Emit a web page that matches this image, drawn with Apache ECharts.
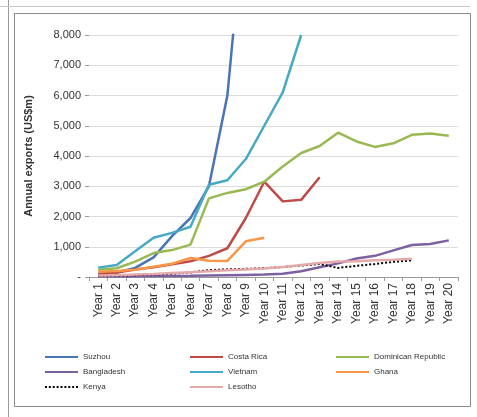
<!DOCTYPE html>
<html>
<head>
<meta charset="utf-8">
<script src="https://cdn.jsdelivr.net/npm/echarts@6/dist/echarts.min.js"></script>
<style>
html,body{margin:0;padding:0;background:#fff;}
#chart{width:477px;height:417px;}
</style>
</head>
<body>
<div id="chart"></div>
<script>
const years = ['Year 1','Year 2','Year 3','Year 4','Year 5','Year 6','Year 7','Year 8','Year 9','Year 10',
  'Year 11','Year 12','Year 13','Year 14','Year 15','Year 16','Year 17','Year 18','Year 19','Year 20'];
const yTicks = [0, 1000, 2000, 3000, 4000, 5000, 6000, 7000, 8000];

const suzhou     = [100, 150, 300, 650, 1350, 1950, 3000, 6000, 12500];
const costaRica  = [100, 150, 250, 320, 420, 520, 700, 950, 1950, 3150, 2500, 2550, 3300];
const dominican  = [240, 290, 510, 790, 890, 1070, 2600, 2780, 2900, 3150, 3650, 4100, 4330, 4770, 4480, 4300, 4420, 4700, 4740, 4670];
const bangladesh = [20, 20, 25, 30, 35, 40, 50, 60, 70, 80, 110, 190, 320, 450, 610, 700, 880, 1060, 1090, 1210];
const vietnam    = [310, 400, 850, 1300, 1460, 1660, 3050, 3200, 3900, 5000, 6100, 8000];
const ghana      = [170, 200, 240, 340, 440, 630, 540, 530, 1180, 1300];
const kenya      = [30, 40, 60, 80, 110, 150, 230, 250, 270, 290, 330, 380, 430, 300, 370, 430, 500, 550];
const lesotho    = [50, 60, 80, 100, 130, 160, 190, 220, 250, 280, 330, 400, 460, 510, 520, 550, 570, 600];

const FONT = 'Liberation Sans, Arial, sans-serif';

const seriesDefs = [
  {name:'Suzhou', data:suzhou, color:'#4A74B8'},
  {name:'Costa Rica', data:costaRica, color:'#BE4B48'},
  {name:'Dominican Republic', data:dominican, color:'#98B954'},
  {name:'Bangladesh', data:bangladesh, color:'#7D60A0'},
  {name:'Vietnam', data:vietnam, color:'#46AAC5'},
  {name:'Ghana', data:ghana, color:'#F79646'},
  {name:'Kenya', data:kenya, color:'#000000', dotted:true},
  {name:'Lesotho', data:lesotho, color:'#E6A9AA'}
];

const legendPos = [
  [45,353],[190,353],[336,353],
  [45,368],[190,368],[336,368],
  [45,383],[190,383]
];

const SOLID_ICON = 'path://M0,0H34V2H0Z';
let dots = '';
for (let k = 0; k < 9; k++) { dots += 'M' + (k*4) + ',0h2v2h-2z'; }
const DOTTED_ICON = 'path://' + dots;

const chart = echarts.init(document.getElementById('chart'), null, {renderer:'canvas'});

const option = {
  backgroundColor:'#ffffff',
  animation:false,
  textStyle:{fontFamily:FONT},
  grid:{left:89, right:19, top:35, bottom:140, containLabel:false},
  xAxis:{
    type:'category',
    data:years,
    boundaryGap:true,
    axisLine:{show:true, lineStyle:{color:'#9a9a9a', width:1}},
    axisTick:{show:true, length:4, lineStyle:{color:'#9a9a9a'}},
    axisLabel:{rotate:90, fontSize:12, color:'#333', margin:6, fontFamily:FONT, interval:0},
    splitLine:{show:false}
  },
  yAxis:{
    type:'value',
    min:yTicks[0], max:yTicks[yTicks.length-1], interval:1000,
    name:'Annual exports (US$m)',
    nameLocation:'middle',
    nameGap:55,
    nameTextStyle:{fontSize:11, fontWeight:'bold', color:'#333', fontFamily:FONT},
    axisLine:{show:false},
    axisTick:{show:true, length:4, lineStyle:{color:'#9a9a9a'}},
    axisLabel:{fontSize:11, color:'#333', margin:8, fontFamily:FONT,
      formatter:function(v){ return v===0 ? '-' : v.toLocaleString('en-US'); }},
    splitLine:{show:true, lineStyle:{color:'#dcdcdc', width:1}}
  },
  legend: seriesDefs.map(function(s, i){
    return {
      data:[{name:s.name, icon: s.dotted ? DOTTED_ICON : SOLID_ICON}],
      left:legendPos[i][0], top:legendPos[i][1],
      itemWidth:33, itemHeight:s.dotted ? 2 : 3, itemGap:4,
      padding:0,
      textStyle:{fontSize:8, color:'#333', fontFamily:FONT}
    };
  }),
  graphic:[
    {type:'rect', shape:{x:14.5, y:13.5, width:456, height:393}, style:{fill:'none', stroke:'#8a8a8a', lineWidth:1}, z:-1},
    {type:'line', shape:{x1:8.5, y1:0, x2:8.5, y2:417}, style:{stroke:'#9a9a9a', lineWidth:1}, z:-1},
    {type:'line', shape:{x1:0, y1:6.5, x2:470, y2:6.5}, style:{stroke:'#c8c8c8', lineWidth:1}, z:-1}
  ],
  series: seriesDefs.map(function(s){
    return {
      name:s.name,
      type:'line',
      data:s.data,
      symbol:'none',
      clip:true,
      color:s.color,
      lineStyle:{color:s.color, width:s.dotted?2:2.5, type:s.dotted?[2,2]:'solid'},
      emphasis:{disabled:true}
    };
  })
};
chart.setOption(option);
</script>
</body>
</html>
